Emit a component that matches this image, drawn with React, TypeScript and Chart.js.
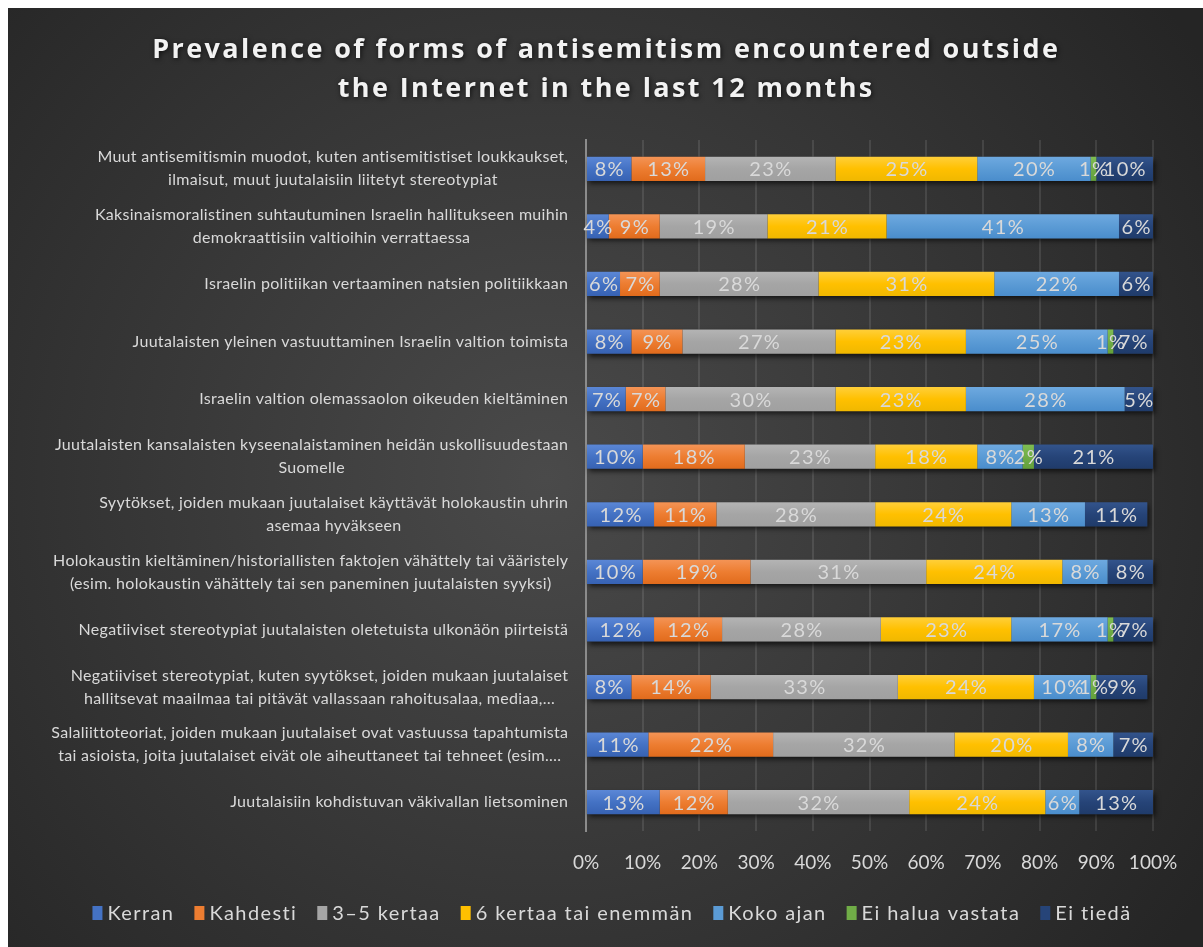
import React, { useEffect, useRef } from "react";
import { Chart, registerables } from "chart.js";

Chart.register(...registerables);

const TITLE_LINES = [
  "Prevalence of forms of antisemitism encountered outside",
  "the Internet in the last 12 months",
];

const CATEGORIES: string[][] = [
  ["Muut antisemitismin muodot, kuten antisemitistiset loukkaukset,", "ilmaisut, muut juutalaisiin liitetyt stereotypiat"],
  ["Kaksinaismoralistinen suhtautuminen Israelin hallitukseen muihin", "demokraattisiin valtioihin verrattaessa"],
  ["Israelin politiikan vertaaminen natsien politiikkaan"],
  ["Juutalaisten yleinen vastuuttaminen Israelin valtion toimista"],
  ["Israelin valtion olemassaolon oikeuden kieltäminen"],
  ["Juutalaisten kansalaisten kyseenalaistaminen heidän uskollisuudestaan", "Suomelle"],
  ["Syytökset, joiden mukaan juutalaiset käyttävät holokaustin uhrin", "asemaa hyväkseen"],
  ["Holokaustin kieltäminen/historiallisten faktojen vähättely tai vääristely", "(esim. holokaustin vähättely tai sen paneminen juutalaisten syyksi)"],
  ["Negatiiviset stereotypiat juutalaisten oletetuista ulkonäön piirteistä"],
  ["Negatiiviset stereotypiat, kuten syytökset, joiden mukaan juutalaiset", "hallitsevat maailmaa tai pitävät vallassaan rahoitusalaa, mediaa,…"],
  ["Salaliittoteoriat, joiden mukaan juutalaiset ovat vastuussa tapahtumista", "tai asioista, joita juutalaiset eivät ole aiheuttaneet tai tehneet (esim.…"],
  ["Juutalaisiin kohdistuvan väkivallan lietsominen"],
];

const SERIES_NAMES = [
  "Kerran",
  "Kahdesti",
  "3–5 kertaa",
  "6 kertaa tai enemmän",
  "Koko ajan",
  "Ei halua vastata",
  "Ei tiedä",
];

const KERRAN = [8, 4, 6, 8, 7, 10, 12, 10, 12, 8, 11, 13];
const KAHDESTI = [13, 9, 7, 9, 7, 18, 11, 19, 12, 14, 22, 12];
const KERTAA_3_5 = [23, 19, 28, 27, 30, 23, 28, 31, 28, 33, 32, 32];
const KERTAA_6 = [25, 21, 31, 23, 23, 18, 24, 24, 23, 24, 20, 24];
const KOKO_AJAN = [20, 41, 22, 25, 28, 8, 13, 8, 17, 10, 8, 6];
const EI_HALUA = [1, 0, 0, 1, 0, 2, 0, 0, 1, 1, 0, 0];
const EI_TIEDA = [10, 6, 6, 7, 5, 21, 11, 8, 7, 9, 7, 13];

const SERIES_VALUES = [KERRAN, KAHDESTI, KERTAA_3_5, KERTAA_6, KOKO_AJAN, EI_HALUA, EI_TIEDA];

// [base, light top, dark bottom]
const COLORS: string[][] = [
  ["#4472C4", "#5b87d6", "#3762b3"],
  ["#ED7D31", "#f49456", "#e16b1c"],
  ["#A5A5A5", "#b4b4b4", "#a0a0a0"],
  ["#FFC000", "#ffcf3a", "#f0b800"],
  ["#5B9BD5", "#6ea9e0", "#4a8dcc"],
  ["#70AD47", "#7fbd52", "#63a03b"],
  ["#264478", "#33548c", "#1f3b6a"],
];

const X_MIN = 0;
const X_MAX = 100;
const X_STEP = 10;

const W = 1195;
const H = 939;
const BAR_PCT = 0.42;
const TEXT_COLOR = "#d9d9d9";
const FONT = "Lato, 'Open Sans', sans-serif";

const bgPlugin = {
  id: "bg",
  beforeDraw(chart: any) {
    const c = chart.ctx;
    c.save();
    const g = c.createRadialGradient(W * 0.45, H * 0.5, 0, W * 0.45, H * 0.5, 780);
    g.addColorStop(0, "#4a4a4a");
    g.addColorStop(1, "#252525");
    c.fillStyle = g;
    c.fillRect(0, 0, W, H);
    c.restore();
  },
};

const titlePlugin = {
  id: "customTitle",
  afterDraw(chart: any) {
    const c = chart.ctx;
    c.save();
    const sp = 2.4;
    c.font = `bold 27px 'Open Sans', sans-serif`;
    (c as any).letterSpacing = `${sp}px`;
    c.fillStyle = "#f2f2f2";
    c.textAlign = "center";
    c.textBaseline = "middle";
    c.shadowColor = "rgba(0,0,0,0.7)";
    c.shadowBlur = 5;
    c.shadowOffsetX = 1;
    c.shadowOffsetY = 1;
    const cx = 597 + sp / 2;
    TITLE_LINES.forEach((t, i) => c.fillText(t, cx, 42 + i * 39));
    c.restore();
  },
};

const shadowPlugin = {
  id: "barShadow",
  beforeDatasetsDraw(chart: any) {
    const c = chart.ctx;
    const metas = chart.data.datasets.map((_: any, i: number) => chart.getDatasetMeta(i));
    c.save();
    for (let i = 0; i < CATEGORIES.length; i++) {
      let left = Infinity;
      let right = -Infinity;
      let y = 0;
      let h = 0;
      metas.forEach((m: any) => {
        const el = m.data[i];
        if (!el) return;
        const p = el.getProps(["x", "y", "base", "height"], true);
        left = Math.min(left, p.base, p.x);
        right = Math.max(right, p.base, p.x);
        y = p.y;
        h = p.height;
      });
      if (!Number.isFinite(left) || !Number.isFinite(right)) continue;
      c.shadowColor = "rgba(0,0,0,0.65)";
      c.shadowBlur = 5;
      c.shadowOffsetX = 2;
      c.shadowOffsetY = 3;
      c.fillStyle = "#2a2a2a";
      c.fillRect(left, y - h / 2, right - left, h);
    }
    c.restore();
  },
};

const labelsPlugin = {
  id: "valueLabels",
  afterDatasetsDraw(chart: any) {
    const c = chart.ctx;
    c.save();
    const sp = 1.3;
    c.font = `20px ${FONT}`;
    (c as any).letterSpacing = `${sp}px`;
    c.fillStyle = TEXT_COLOR;
    c.textAlign = "center";
    c.textBaseline = "middle";
    chart.data.datasets.forEach((ds: any, di: number) => {
      const meta = chart.getDatasetMeta(di);
      meta.data.forEach((el: any, i: number) => {
        const v = ds.data[i];
        if (!v) return;
        const p = el.getProps(["x", "y", "base"], true);
        c.fillText(`${Math.round(v)}%`, (p.x + p.base) / 2 + sp / 2, p.y + 1);
      });
    });
    c.restore();
  },
};

const yLabelsPlugin = {
  id: "yLabels",
  afterDraw(chart: any) {
    const c = chart.ctx;
    const ys = chart.scales.y;
    c.save();
    const sp = 0.3;
    c.font = `16px ${FONT}`;
    (c as any).letterSpacing = `${sp}px`;
    c.fillStyle = TEXT_COLOR;
    c.textAlign = "center";
    c.textBaseline = "middle";
    const right = 560 + sp;
    const lh = 23;
    CATEGORIES.forEach((lines, i) => {
      const y = ys.getPixelForValue(i);
      const maxW = Math.max(...lines.map((l) => c.measureText(l).width));
      const cx = right - maxW / 2;
      const y0 = y - ((lines.length - 1) * lh) / 2;
      lines.forEach((l, k) => c.fillText(l, cx, y0 + k * lh));
    });
    c.restore();
  },
};

const legendPlugin = {
  id: "customLegend",
  afterDraw(chart: any) {
    const c = chart.ctx;
    c.save();
    c.font = `20px ${FONT}`;
    (c as any).letterSpacing = "1.4px";
    c.textBaseline = "middle";
    c.textAlign = "left";
    const boxW = 10;
    const boxH = 14;
    const gapText = 5;
    const gapItem = 20;
    const widths = SERIES_NAMES.map((n) => boxW + gapText + c.measureText(n).width);
    const total = widths.reduce((a, b) => a + b, 0) + gapItem * (SERIES_NAMES.length - 1);
    let x = 604 - total / 2;
    const y = 905;
    SERIES_NAMES.forEach((n, i) => {
      c.fillStyle = COLORS[i][0];
      c.fillRect(x, y - boxH / 2, boxW, boxH);
      c.fillStyle = TEXT_COLOR;
      c.fillText(n, x + boxW + gapText, y + 1);
      x += widths[i] + gapItem;
    });
    c.restore();
  },
};

export default function App() {
  const ref = useRef<HTMLCanvasElement | null>(null);

  useEffect(() => {
    if (!ref.current) return;
    const datasets = SERIES_NAMES.map((name, si) => ({
      label: name,
      data: SERIES_VALUES[si],
      backgroundColor: (ctx: any) => {
        const chart = ctx.chart;
        const ys = chart.scales?.y;
        if (!ys || ctx.type !== "data") return COLORS[si][0];
        const y = ys.getPixelForValue(ctx.dataIndex);
        const h = (ys.height / CATEGORIES.length) * BAR_PCT;
        if (!Number.isFinite(y) || !Number.isFinite(h) || h <= 0) return COLORS[si][0];
        const g = chart.ctx.createLinearGradient(0, y - h / 2, 0, y + h / 2);
        g.addColorStop(0, COLORS[si][1]);
        g.addColorStop(0.5, COLORS[si][0]);
        g.addColorStop(1, COLORS[si][2]);
        return g;
      },
      borderWidth: 0,
      barPercentage: BAR_PCT,
      categoryPercentage: 1,
    }));

    const chart = new Chart(ref.current, {
      type: "bar",
      data: {
        labels: CATEGORIES.map((l) => l.join(" ")),
        datasets,
      },
      options: {
        indexAxis: "y",
        responsive: false,
        animation: false,
        devicePixelRatio: 1,
        layout: { padding: { top: 132, right: 50, left: 0, bottom: 0 } },
        plugins: {
          legend: { display: false },
          title: { display: false },
          tooltip: { enabled: false },
        },
        scales: {
          x: {
            stacked: true,
            min: X_MIN,
            max: X_MAX,
            ticks: {
              stepSize: X_STEP,
              callback: (v: any) => `${v}%`,
              color: TEXT_COLOR,
              font: { family: FONT, size: 19 },
              padding: 20,
              maxRotation: 0,
              autoSkip: false,
            },
            grid: {
              color: (ctx: any) => (ctx.index === 0 ? "rgba(0,0,0,0)" : "rgba(255,255,255,0.1)"),
              lineWidth: 2,
              drawTicks: false,
            },
            border: { display: false },
            afterFit: (s: any) => {
              s.height = 116;
            },
          },
          y: {
            stacked: true,
            ticks: { display: false },
            grid: { display: false, drawTicks: false },
            border: { display: true, color: "#8c8c8c", width: 2 },
            afterFit: (s: any) => {
              s.width = 578;
            },
          },
        },
      },
      plugins: [bgPlugin, shadowPlugin, labelsPlugin, yLabelsPlugin, legendPlugin, titlePlugin],
    });
    return () => chart.destroy();
  }, []);

  return (
    <div style={{ position: "fixed", left: 8, top: 8, width: W, height: H }}>
      <canvas ref={ref} width={W} height={H} style={{ width: W, height: H, display: "block" }} />
    </div>
  );
}
